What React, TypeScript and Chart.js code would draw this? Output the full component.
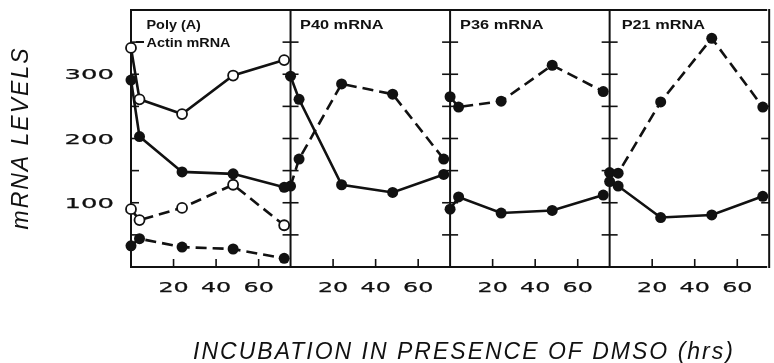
import { useEffect, useRef } from "react";
import { Chart, registerables } from "chart.js";

Chart.register(...registerables);

// ---- data ----
const TIMES = [0, 4, 24, 48, 72]; // hours in DMSO
const PANEL_SPAN = 75; // hours shown per panel
const PANEL_COUNT = 4;
const PANEL_TITLES = [["Poly (A)", "Actin mRNA"], ["P40 mRNA"], ["P36 mRNA"], ["P21 mRNA"]];

// panel 1
const P1_OPEN_SOLID = [341, 261, 238, 298, 322];
const P1_FILLED_SOLID = [291, 203, 148, 145, 124];
const P1_OPEN_DASHED = [90, 73, 92, 128, 65];
const P1_FILLED_DASHED = [33, 44, 31, 28, 13.5];
// panel 2 (P40)
const P40_SOLID = [297, 261, 128, 116, 144];
const P40_DASHED = [126, 168, 285, 269, 168];
// panel 3 (P36)
const P36_SOLID = [90, 109, 84, 88, 112];
const P36_DASHED = [265, 249, 258, 314, 273];
// panel 4 (P21)
const P21_SOLID = [133, 126, 77, 81, 110];
const P21_DASHED = [147, 146, 257, 356, 249];

const Y_MIN = 0;
const Y_MAX = 400;
const Y_TICK_MARKS = [50, 100, 150, 200, 250, 300, 350];
const Y_TICK_LABELS = [100, 200, 300];
const X_TICK_VALUES = [20, 40, 60];
const X_TITLE = "INCUBATION IN PRESENCE OF DMSO (hrs)";
const Y_TITLE = "mRNA LEVELS";

const INK = "#111111";
const TITLE_OFFSETS = [15.5, 9.5, 10, 12];

type Spec = { panel: number; values: number[]; open: boolean; dashed: boolean; label: string };

const SERIES: Spec[] = [
  { panel: 0, values: P1_OPEN_SOLID, open: true, dashed: false, label: "Poly(A) open solid" },
  { panel: 0, values: P1_FILLED_SOLID, open: false, dashed: false, label: "Actin filled solid" },
  { panel: 0, values: P1_OPEN_DASHED, open: true, dashed: true, label: "Poly(A) open dashed" },
  { panel: 0, values: P1_FILLED_DASHED, open: false, dashed: true, label: "Actin filled dashed" },
  { panel: 1, values: P40_SOLID, open: false, dashed: false, label: "P40 solid" },
  { panel: 1, values: P40_DASHED, open: false, dashed: true, label: "P40 dashed" },
  { panel: 2, values: P36_SOLID, open: false, dashed: false, label: "P36 solid" },
  { panel: 2, values: P36_DASHED, open: false, dashed: true, label: "P36 dashed" },
  { panel: 3, values: P21_SOLID, open: false, dashed: false, label: "P21 solid" },
  { panel: 3, values: P21_DASHED, open: false, dashed: true, label: "P21 dashed" },
];

function stretchText(
  ctx: CanvasRenderingContext2D,
  text: string,
  x: number,
  y: number,
  sx: number,
  align: CanvasTextAlign,
  stroke = 0
) {
  ctx.save();
  ctx.translate(x, y);
  ctx.scale(sx, 1);
  ctx.textAlign = align;
  ctx.fillText(text, 0, 0);
  if (stroke > 0) {
    ctx.lineWidth = stroke;
    ctx.strokeStyle = INK;
    ctx.strokeText(text, 0, 0);
  }
  ctx.restore();
}

const decorPlugin = {
  id: "decor",
  beforeDatasetsDraw(chart: any) {
    const { ctx, chartArea } = chart;
    const { top, bottom, left, right } = chartArea;
    const xs = chart.scales.x;
    const ys = chart.scales.y;
    ctx.save();
    ctx.strokeStyle = INK;
    ctx.lineWidth = 2;
    ctx.lineCap = "butt";
    ctx.beginPath();
    ctx.moveTo(left - 1, top);
    ctx.lineTo(right, top);
    ctx.moveTo(left - 1, bottom);
    ctx.lineTo(right, bottom);
    ctx.stroke();

    for (let p = 0; p <= PANEL_COUNT; p++) {
      const px = xs.getPixelForValue(p * PANEL_SPAN);
      ctx.lineWidth = 2;
      ctx.beginPath();
      ctx.moveTo(px, top - 1);
      ctx.lineTo(px, bottom + 1);
      ctx.stroke();
      ctx.lineWidth = 1.6;
      for (const v of Y_TICK_MARKS) {
        const py = ys.getPixelForValue(v);
        const l = p === 0 ? 0 : 8;
        const r = p === PANEL_COUNT ? 0 : 8;
        ctx.beginPath();
        ctx.moveTo(px - l, py);
        ctx.lineTo(px + r, py);
        ctx.stroke();
      }
      if (p < PANEL_COUNT) {
        for (const t of X_TICK_VALUES) {
          const tx = xs.getPixelForValue(p * PANEL_SPAN + t);
          ctx.beginPath();
          ctx.moveTo(tx, bottom);
          ctx.lineTo(tx, bottom - 8);
          ctx.stroke();
        }
      }
    }
    ctx.restore();
  },
  afterDraw(chart: any) {
    const { ctx, chartArea } = chart;
    const { bottom, left } = chartArea;
    const xs = chart.scales.x;
    const ys = chart.scales.y;
    ctx.save();
    ctx.fillStyle = INK;
    ctx.textBaseline = "alphabetic";

    // y tick labels
    ctx.font = '14px "DejaVu Sans"';
    (ctx as any).letterSpacing = "0px";
    for (const v of Y_TICK_LABELS) {
      const py = ys.getPixelForValue(v);
      stretchText(ctx, String(v), left - 17, py + 5, 1.85, "right", 0.25);
    }
    // x tick labels
    for (let p = 0; p < PANEL_COUNT; p++) {
      for (const t of X_TICK_VALUES) {
        const tx = xs.getPixelForValue(p * PANEL_SPAN + t);
        stretchText(ctx, String(t), tx, bottom + 25, 1.7, "center", 0.25);
      }
    }

    // panel titles
    ctx.font = 'bold 12px "Liberation Sans"';
    PANEL_TITLES.forEach((lines, p) => {
      const px = xs.getPixelForValue(p * PANEL_SPAN) + TITLE_OFFSETS[p];
      lines.forEach((line, i) => {
        stretchText(ctx, line, px, 28.5 + i * 18, lines.length > 1 ? 1.2 : 1.36, "left");
      });
    });
    // pointer from "Actin mRNA" label to its symbol
    const p0 = xs.getPixelForValue(0);
    ctx.strokeStyle = INK;
    ctx.lineWidth = 2;
    ctx.beginPath();
    ctx.moveTo(p0 + 5, 42);
    ctx.lineTo(p0 + 13, 42);
    ctx.stroke();

    // axis titles
    ctx.font = 'italic 23px "Liberation Sans"';
    (ctx as any).letterSpacing = "2px";
    ctx.textAlign = "center";
    ctx.fillText(X_TITLE, 464, 358.5);
    ctx.save();
    ctx.translate(27.5, 138);
    ctx.rotate(-Math.PI / 2);
    ctx.fillText(Y_TITLE, 0, 0);
    ctx.restore();
    ctx.restore();
  },
};

export default function App() {
  const canvasRef = useRef<HTMLCanvasElement | null>(null);

  useEffect(() => {
    const canvas = canvasRef.current;
    if (!canvas) return;
    const datasets = SERIES.map((s) => ({
      label: s.label,
      data: TIMES.map((t, i) => ({ x: s.panel * PANEL_SPAN + t, y: s.values[i] })),
      borderColor: INK,
      borderWidth: 2.6,
      borderDash: s.dashed ? [11, 6] : [],
      pointRadius: s.open ? 5 : 5.5,
      pointBackgroundColor: s.open ? "#ffffff" : INK,
      pointBorderColor: INK,
      pointBorderWidth: s.open ? 1.8 : 0,
      pointHoverRadius: 0,
      tension: 0,
      fill: false,
      clip: false as any,
    }));

    const chart = new Chart(canvas, {
      type: "line",
      data: { datasets },
      options: {
        animation: false,
        responsive: false,
        devicePixelRatio: 1,
        layout: { padding: { left: 131, top: 10, right: 0, bottom: 96 } },
        plugins: { legend: { display: false }, tooltip: { enabled: false } },
        events: [],
        scales: {
          x: {
            type: "linear",
            display: false,
            min: 0,
            max: (774 - 131) / 2.15,
          },
          y: {
            type: "linear",
            display: false,
            min: Y_MIN,
            max: Y_MAX,
          },
        },
      },
      plugins: [decorPlugin],
    });
    return () => chart.destroy();
  }, []);

  return (
    <div style={{ position: "fixed", left: 0, top: 0, width: 774, height: 363, background: "#fff" }}>
      <canvas ref={canvasRef} width={774} height={363} style={{ display: "block" }} />
    </div>
  );
}
